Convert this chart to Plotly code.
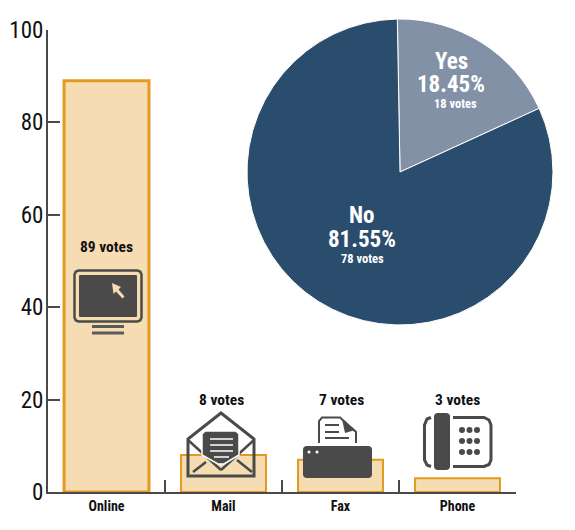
import plotly.graph_objects as go

W, H = 575, 530

categories = ["Online", "Mail", "Fax", "Phone"]
votes = [89, 8, 7, 3]
vote_labels = ["89 votes", "8 votes", "7 votes", "3 votes"]
y_ticks = [0, 20, 40, 60, 80, 100]
pie_labels = ["Yes", "No"]
pie_shares = [18.45, 81.55]
pie_pct_labels = ["18.45%", "81.55%"]
pie_vote_labels = ["18 votes", "78 votes"]

FONT = '"Roboto Condensed","DejaVu Sans Condensed","Liberation Sans",sans-serif'
DARK = "#4a4a4a"
CREAM = "#f5dcb3"
ORANGE = "#e39a1e"
NAVY = "#2a4d6d"
SLATE = "#8391a6"


def px(x):
    return x / W


def py(y):
    return 1 - y / H


def path_d(*subpaths, closed=True):
    d = ""
    for pts in subpaths:
        d += "M" + " L".join(f"{px(x):.5f},{py(y):.5f}" for x, y in pts)
        if closed:
            d += " Z "
    return d


def poly(points, fill=None, line=None, width=0, closed=True):
    s = dict(type="path", xref="paper", yref="paper", path=path_d(points, closed=closed), layer="above")
    s["fillcolor"] = fill if fill else "rgba(0,0,0,0)"
    s["line"] = dict(color=line if line else "rgba(0,0,0,0)", width=width)
    return s


def rounded(x0, y0, x1, y1, r, **kw):
    pts = [(x0 + r, y0), (x1 - r, y0), (x1 - r * .3, y0 + r * .3), (x1, y0 + r), (x1, y1 - r),
           (x1 - r * .3, y1 - r * .3), (x1 - r, y1), (x0 + r, y1), (x0 + r * .3, y1 - r * .3),
           (x0, y1 - r), (x0, y0 + r), (x0 + r * .3, y0 + r * .3)]
    return poly(pts, **kw)


def seg(x0, y0, x1, y1, color=DARK, width=2):
    return poly([(x0, y0), (x1, y1)], line=color, width=width, closed=False)


def dot(cx, cy, r, color=DARK):
    return dict(type="circle", xref="paper", yref="paper", x0=px(cx - r), x1=px(cx + r),
                y0=py(cy + r), y1=py(cy - r), fillcolor=color, line=dict(width=0), layer="above")


shapes = []
# monitor
shapes += [rounded(74.5, 270.5, 141.5, 321.5, 4, line=DARK, width=2.5),
           rounded(79, 275, 137, 317, 1, fill=DARK),
           poly([(112, 283), (121, 287), (118.5, 289.5), (124.5, 296.5), (122.5, 298.5), (116, 291.5), (113.5, 294)], fill=CREAM),
           seg(92, 326.5, 124, 326.5, "#5a5a5a", 3),
           seg(92, 333, 124, 333, "#5a5a5a", 3)]
# envelope
shapes += [poly([(221, 413), (254, 439), (254, 476), (188, 476), (188, 439)], line=DARK, width=3),
           seg(193, 472, 206, 462, DARK, 2.5),
           seg(252, 472, 237, 460, DARK, 2.5),
           seg(188, 440, 221, 470, DARK, 2.5),
           seg(254, 440, 221, 470, DARK, 2.5),
           poly([(205, 431), (236, 431), (239, 434), (239, 455), (224, 464), (218, 464), (202, 455), (202, 434)],
                fill=DARK, line="#ffffff", width=1.5)]
for ly, x0, x1 in [(439, 210, 233), (445, 210, 233), (451, 210, 233), (457, 214, 229)]:
    shapes.append(seg(x0, ly, x1, ly, "#ffffff", 1.5))
# fax
shapes += [poly([(319, 443), (319, 421), (322, 417.5), (340, 417.5), (356, 432), (356, 443)], line=DARK, width=2, closed=False),
           poly([(342, 419), (355, 430), (345, 433)], fill=DARK),
           seg(325, 425, 339, 425), seg(325, 432, 339, 432), seg(325, 438, 349, 438),
           rounded(303, 446, 372, 478, 3, fill=DARK),
           dot(309, 452, 1.5, "#ffffff"), dot(317, 452, 1.5, "#ffffff")]
# phone
shapes += [poly([(431, 417.5), (427, 419), (424.5, 425), (424.5, 460), (427, 465), (431, 466.5)], line=DARK, width=3, closed=False),
           poly([(453, 417.5), (484, 417.5), (489, 420), (491, 425), (491, 460), (489, 464.5), (484, 466.5), (453, 466.5)],
                line=DARK, width=3, closed=False),
           rounded(434, 413, 450, 470, 3, fill=DARK)]
for ky in (430, 441, 452):
    for kx in (462, 469.5, 477):
        shapes.append(dot(kx, ky, 3))

fig = go.Figure()
fig.add_trace(go.Bar(
    x=categories, y=votes, width=0.726,
    marker=dict(color=CREAM, line=dict(color=ORANGE, width=[3, 2, 2, 2])),
    showlegend=False, hoverinfo="skip", cliponaxis=False,
))
fig.add_trace(go.Pie(
    labels=pie_labels, values=pie_shares, sort=False, direction="clockwise", rotation=-1,
    marker=dict(colors=[SLATE, NAVY], line=dict(color="#ffffff", width=1)),
    textinfo="none", showlegend=False, hoverinfo="skip",
    domain=dict(x=[px(247), px(553)], y=[py(325), py(19)]),
))


def note(x, y, text, size, color="#111111"):
    return dict(xref="paper", yref="paper", x=px(x), y=py(y), text=text, showarrow=False,
                xanchor="center", yanchor="middle",
                font=dict(family=FONT, size=size, color=color, weight="bold"))


annotations = []
for (lx, ly), t in zip([(106, 247), (221, 400), (341, 400), (457, 400)], vote_labels):
    annotations.append(note(lx, ly, t, 15.5))
for i, (nx, sx, pct_y, vy, sy) in enumerate([(451, 455, 62, 85, 104), (362, 362, 215, 239, 258)]):
    annotations.append(note(nx, pct_y, pie_labels[i], 23, "#ffffff"))
    annotations.append(note(nx, vy, pie_pct_labels[i], 23, "#ffffff"))
    annotations.append(note(sx, sy, pie_vote_labels[i], 12.5, "#ffffff"))

fig.update_layout(
    width=W, height=H, autosize=False,
    margin=dict(l=0, r=0, t=0, b=0, pad=0),
    paper_bgcolor="#ffffff", plot_bgcolor="#ffffff",
    font=dict(family=FONT),
    shapes=shapes, annotations=annotations,
    bargap=0.274,
    xaxis=dict(domain=[px(48), px(516)], type="category", tickson="boundaries", ticks="inside", ticklen=12,
               tickwidth=1.5, tickcolor=DARK, showline=True, linecolor=DARK, linewidth=2, automargin=False,
               showgrid=False, zeroline=False, fixedrange=True, ticklabelstandoff=0,
               tickfont=dict(family=FONT, size=14, color="#111111", weight="bold")),
    yaxis=dict(domain=[py(492), py(30)], range=[0, 100], tickvals=y_ticks, ticks="inside", ticklen=12,
               tickwidth=1.5, tickcolor=DARK, showline=True, linecolor=DARK, linewidth=2, automargin=False,
               showgrid=False, zeroline=False, fixedrange=True, ticklabelstandoff=-2,
               tickfont=dict(family=FONT, size=23, color="#111111")),
)
fig.write_html("out.html", config=dict(displayModeBar=False),
               post_script="document.body.style.margin='0';")
